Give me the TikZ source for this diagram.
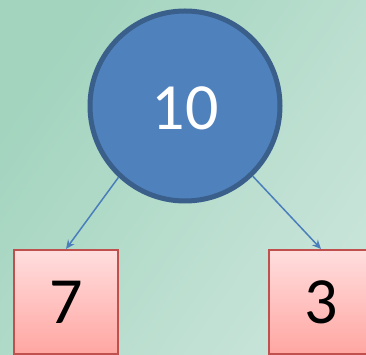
\documentclass[tikz,border=0pt]{standalone}
\usepackage{fontspec}
\setmainfont{Carlito}
\usetikzlibrary{arrows.meta}
\definecolor{nodeblue}{HTML}{4F81BD}
\definecolor{nodeedge}{HTML}{3A5F8B}
\definecolor{leafedge}{HTML}{C0504D}
\definecolor{leaftop}{HTML}{FFDEDE}
\definecolor{leafbot}{HTML}{FFA6A2}
\definecolor{bgdark}{HTML}{A2D4BE}
\definecolor{bglight}{HTML}{C8E4D9}
\definecolor{linkblue}{HTML}{4A7EBB}
\tikzset{
  rootnode/.style={circle, fill=nodeblue, draw=nodeedge, line width=5pt,
    minimum size=190pt, inner sep=0pt, text=white, text height=48pt,
    font=\fontsize{66}{66}\selectfont},
  leafnode/.style={rectangle, top color=leaftop, bottom color=leafbot,
    draw=leafedge, line width=2pt, minimum size=104pt, inner sep=0pt,
    font=\fontsize{66}{66}\selectfont},
  link/.style={draw=linkblue, line width=1.5pt,
    -{Stealth[length=9pt, width=8pt, inset=3pt]}}
}
\begin{document}
\begin{tikzpicture}[x=1pt, y=1pt]
    \useasboundingbox (0,0) rectangle (366,355);
    \shade[left color=bgdark, right color=bglight, shading angle=55] (0,0) rectangle (366,355);
    \begin{scope}
        \clip (0,0) rectangle (366,355);
        \node[rootnode] (ten) at (185,249) {10};
        \node[leafnode] (seven) at (66,53) {7};
        \node[leafnode] (three) at (321,53) {3};
    \end{scope}
    \draw[link] (ten.227) -- (seven.north);
    \draw[link] (ten.-46) -- (three.north);
\end{tikzpicture}
\end{document}
